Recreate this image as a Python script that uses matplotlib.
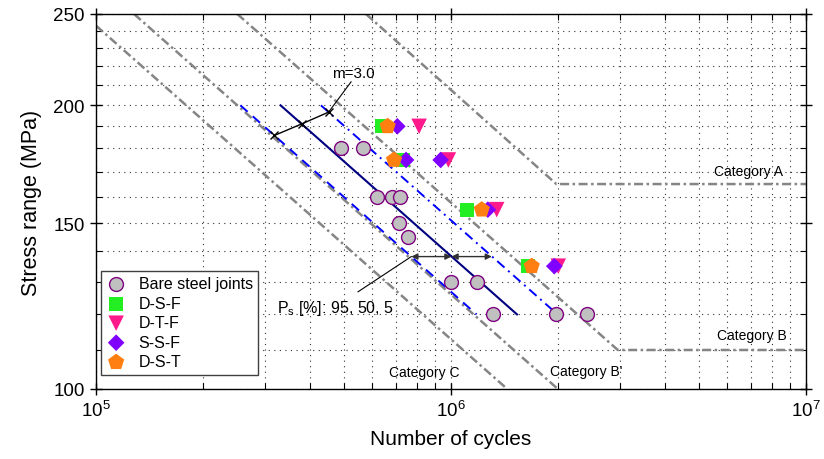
import numpy as np
import matplotlib.pyplot as plt
from matplotlib.ticker import FixedLocator, FixedFormatter, LogLocator, NullFormatter

plt.rcParams['font.family'] = ['Liberation Sans', 'DejaVu Sans']
plt.rcParams['mathtext.fontset'] = 'custom'
plt.rcParams['mathtext.rm'] = 'Liberation Sans'
plt.rcParams['mathtext.it'] = 'Liberation Sans:italic'

# test results (cycles, stress range MPa)
bare_N = [4.9e5, 5.65e5, 6.2e5, 6.8e5, 7.2e5, 7.15e5, 7.55e5, 1.0e6, 1.18e6, 1.31e6, 1.98e6, 2.42e6]
bare_S = [180, 180, 160, 160, 160, 150, 145, 130, 130, 120, 120, 120]
dsf_N = [6.38e5, 7.34e5, 1.107e6, 1.644e6]
dsf_S = [190, 175, 155, 135]
dtf_N = [8.13e5, 9.83e5, 1.345e6, 2.005e6]
dtf_S = [190, 175, 155, 135]
ssf_N = [7.06e5, 7.47e5, 9.35e5, 1.27e6, 1.954e6]
ssf_S = [190, 175, 175, 155, 135]
dst_N = [6.63e5, 6.91e5, 1.221e6, 1.688e6]
dst_S = [190, 175, 155, 135]

# regression lines of bare joints (Ps = 95, 50, 5 %)
fit_S = [200, 120]
fit_N = [3.31e5, 1.534e6]
fit95_N = [2.55e5, 1.18e6]
fit5_N = [4.30e5, 1.995e6]

# AASHTO detail categories
catA_N = [5.76e5, 1.98e6, 1e7]
catA_S = [250, 165, 165]
catB_N = [2.5e5, 2.95e6, 1e7]
catB_S = [250, 110, 110]
catBp_N = [1.28e5, 2.0e6]
catBp_S = [250, 100]
catC_N = [1.0e5, 1.44e6]
catC_S = [243, 100]

# annotation levels
m_S = [185.8, 191.1, 196.7]
band_S = 138.2


def on_line(N0, S0, S, m=3.0):
    return N0 * (S0 / S) ** m


fig = plt.figure(figsize=(8.24, 4.6), dpi=100)
ax = fig.add_axes([0.1165, 0.1522, 0.8617, 0.8152])
ax.set_xscale('log')
ax.set_yscale('log')

gray = '#858585'
cat_ls = (0, (3.6, 1.4, 1.0, 1.4))
for n, s in [(catA_N, catA_S), (catB_N, catB_S), (catBp_N, catBp_S), (catC_N, catC_S)]:
    ax.plot(n, s, color=gray, lw=1.8, ls=cat_ls, zorder=2)

ax.plot(fit_N, fit_S, color='#000080', lw=1.5, zorder=3)
ax.plot(fit95_N, fit_S, color='#0000ff', lw=1.4, ls=(0, (5, 3.5)), zorder=3)
ax.plot(fit5_N, fit_S, color='#0000ff', lw=1.4, ls=(0, (5, 2.5, 1, 2.5)), zorder=3)

# m=3.0 marker line
m_N = [on_line(fit95_N[0], fit_S[0], m_S[0]),
       on_line(fit_N[0], fit_S[0], m_S[1]),
       on_line(fit5_N[0], fit_S[0], m_S[2])]
ax.plot(m_N, m_S, color='black', lw=1.0, marker='x', ms=6, mew=1.0, zorder=4)
ax.plot([5.23e5, m_N[2]], [211.8, m_S[2]], color='black', lw=0.8, zorder=4)
ax.text(5.30e5, 216.5, 'm=3.0', fontsize=11, ha='center', va='center')

# scatter band arrows
b_lo = on_line(fit95_N[0], fit_S[0], band_S)
b_mid = on_line(fit_N[0], fit_S[0], band_S)
b_hi = on_line(fit5_N[0], fit_S[0], band_S)
for a, b in [(b_lo, b_mid), (b_mid, b_hi)]:
    ax.annotate('', xy=(a, band_S), xytext=(b, band_S),
                arrowprops=dict(arrowstyle='<|-|>', color='#303030', lw=1.0,
                                mutation_scale=9, shrinkA=0, shrinkB=0), zorder=4)
ax.plot([5.47e5, b_lo], [126.8, band_S], color='black', lw=0.8, zorder=4)
ax.text(3.236e5, 121.9, r'P$_{\mathrm{s}}$ [%]: 95, 50, 5', fontsize=11.5, ha='left', va='center')

# test data
ax.scatter(bare_N, bare_S, s=100, c='#c0c0c0', edgecolors='#800080', linewidths=1.0,
           zorder=5, label='Bare steel joints')
ax.scatter(dsf_N, dsf_S, s=105, marker='s', c='#22ee22', edgecolors='none', zorder=6, label='D-S-F')
ax.scatter(dtf_N, dtf_S, s=125, marker='v', c='#ff1a8c', edgecolors='none', zorder=6, label='D-T-F')
ax.scatter(ssf_N, ssf_S, s=72, marker='D', c='#8000ff', edgecolors='none', zorder=6, label='S-S-F')
ax.scatter(dst_N, dst_S, s=150, marker='p', c='#ff8010', edgecolors='none', zorder=7, label='D-S-T')

# category labels
ax.text(6.87e6, 170.3, 'Category A', fontsize=10, ha='center', va='center')
ax.text(7.05e6, 114.0, 'Category B', fontsize=10, ha='center', va='center')
ax.text(2.40e6, 104.5, "Category B'", fontsize=10, ha='center', va='center')
ax.text(8.43e5, 104.2, 'Category C', fontsize=10, ha='center', va='center')

ax.set_xlim(1e5, 1e7)
ax.set_ylim(100, 250)
ax.xaxis.set_major_locator(LogLocator(base=10))
ax.xaxis.set_minor_locator(LogLocator(base=10, subs=np.arange(2, 10)))
ax.xaxis.set_minor_formatter(NullFormatter())
ax.yaxis.set_major_locator(FixedLocator([100, 150, 200, 250]))
ax.yaxis.set_major_formatter(FixedFormatter(['100', '150', '200', '250']))
ax.yaxis.set_minor_locator(FixedLocator([110, 120, 130, 140, 160, 170, 180, 190, 210, 220, 230, 240]))
ax.yaxis.set_minor_formatter(NullFormatter())

ax.grid(True, which='both', color='#333333', lw=0.8, ls=(0, (1, 4)), zorder=0)
ax.set_axisbelow(True)
ax.tick_params(which='major', direction='inout', length=8, width=1, labelsize=13.5,
               top=True, right=True, pad=4)
ax.tick_params(which='minor', direction='in', length=4, width=0.8, top=True, right=True)
for sp in ax.spines.values():
    sp.set_linewidth(1.0)

ax.set_xlabel('Number of cycles', fontsize=15, labelpad=6)
ax.set_ylabel('Stress range (MPa)', fontsize=15.5, labelpad=8)

leg = ax.legend(loc='upper left', bbox_to_anchor=(0.007, 0.315), borderaxespad=0,
                fontsize=11.5, frameon=True, fancybox=False, framealpha=1,
                edgecolor='#404040', labelspacing=0.28, handletextpad=0.8,
                handlelength=1.2, borderpad=0.35, scatterpoints=1)
leg.get_frame().set_linewidth(1.0)
leg.set_zorder(10)

fig.savefig('out.png', dpi=100)
